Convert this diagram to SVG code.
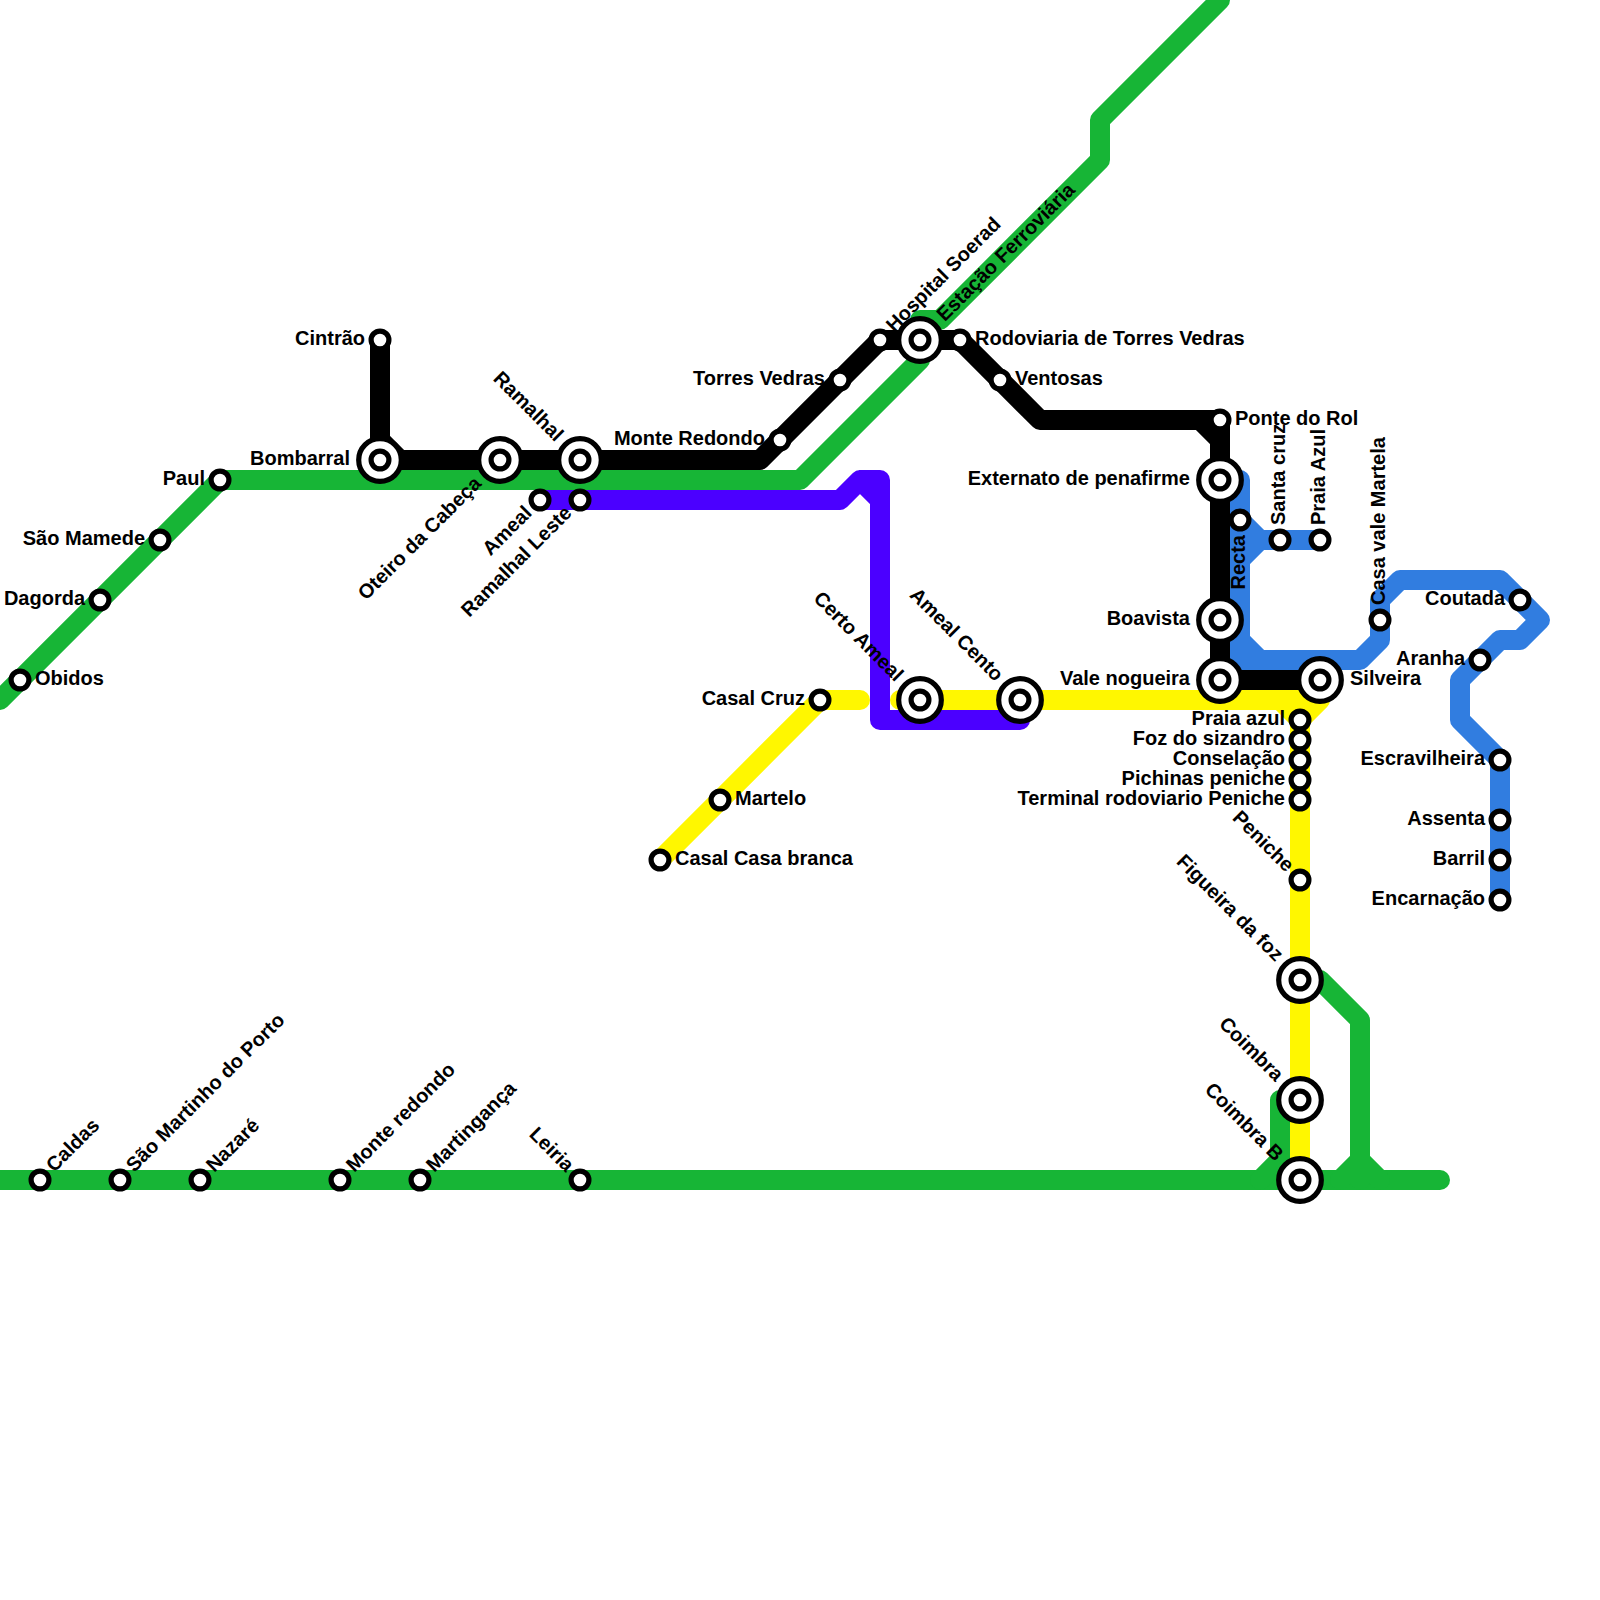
<svg xmlns="http://www.w3.org/2000/svg" width="1600" height="1600" viewBox="0 0 1600 1600">
<style>
.l{fill:none;stroke-width:20;stroke-linecap:round;stroke-linejoin:round}
.g{stroke:#17b536}.k{stroke:#000}.b{stroke:#317de0}.p{stroke:#4b00ff}.y{stroke:#fff700}
.r{fill:#fff;stroke:#000;stroke-width:5.2}
text{font-family:"Liberation Sans",Arial,sans-serif;font-weight:700;font-size:20px;fill:#000}
.e{text-anchor:end}
</style>
<defs>
<g id="s"><circle class="r" r="8.9"/></g>
<g id="i"><circle class="r" r="21.3"/><circle class="r" r="8.9"/></g>
</defs>
<rect width="1600" height="1600" fill="#fff"/>
<g id="connectors">
<path class="l g" d="M0 700L220 480H800L920 360V320H940L1100 160V120L1220 0"/>
<path class="l g" d="M-10 1180H1440"/>
<path class="l g" d="M1300 980H1320L1360 1020V1180M1340 1180L1360 1160L1380 1180"/>
<path class="l g" d="M1300 1100H1280V1160L1260 1180"/>
<path class="l b" d="M1220 480H1240V660H1320M1240 640L1260 660H1360L1380 640V600L1400 580H1500L1540 620L1520 640H1500L1460 680V720L1500 760V900"/>
<path class="l b" d="M1240 520L1260 540H1320M1240 560L1260 540"/>
<path class="l y" d="M660 860L820 700H860M900 700H1280L1300 720V1180M1320 700H1280M1320 700L1300 720"/>
<path class="l p" d="M540 500H840L860 480H880V720H1020V700M860 480L880 500"/>
<path class="l k" d="M380 340V460H760L880 340H960L1040 420H1200L1220 440V680H1320M380 440L400 460M1220 420V440M1200 420H1220"/>
</g>
<g id="n1"><use href="#s" x="20" y="680"/><text x="35" y="685">Obidos</text></g>
<g id="n2"><use href="#s" x="100" y="600"/><text class="e" x="85" y="605">Dagorda</text></g>
<g id="n3"><use href="#s" x="160" y="540"/><text class="e" x="145" y="545">São Mamede</text></g>
<g id="n4"><use href="#s" x="220" y="480"/><text class="e" x="205" y="485">Paul</text></g>
<g id="n5"><use href="#s" x="380" y="340"/><text class="e" x="365" y="345">Cintrão</text></g>
<g id="n6"><use href="#i" x="380" y="460"/><text class="e" x="350" y="465">Bombarral</text></g>
<g id="n7"><use href="#i" x="500" y="460"/><text class="e" transform="translate(500 460) rotate(-45)" x="-30" y="5">Oteiro da Cabeça</text></g>
<g id="n8"><use href="#i" x="580" y="460"/><text class="e" transform="translate(580 460) rotate(45)" x="-30" y="5">Ramalhal</text></g>
<g id="n9"><use href="#s" x="540" y="500"/><text class="e" transform="translate(540 500) rotate(-45)" x="-15" y="5">Ameal</text></g>
<g id="n10"><use href="#s" x="580" y="500"/><text class="e" transform="translate(580 500) rotate(-45)" x="-15" y="5">Ramalhal Leste</text></g>
<g id="n11"><use href="#s" x="780" y="440"/><text class="e" x="765" y="445">Monte Redondo</text></g>
<g id="n12"><use href="#s" x="840" y="380"/><text class="e" x="825" y="385">Torres Vedras</text></g>
<g id="n13"><use href="#s" x="880" y="340"/><text transform="translate(880 340) rotate(-45)" x="15" y="5">Hospital Soerad</text></g>
<g id="n14"><use href="#i" x="920" y="340"/><text transform="translate(920 340) rotate(-45)" x="30" y="5">Estação Ferroviária</text></g>
<g id="n15"><use href="#s" x="960" y="340"/><text x="975" y="345">Rodoviaria de Torres Vedras</text></g>
<g id="n16"><use href="#s" x="1000" y="380"/><text x="1015" y="385">Ventosas</text></g>
<g id="n17"><use href="#s" x="1220" y="420"/><text x="1235" y="425">Ponte do Rol</text></g>
<g id="n18"><use href="#i" x="1220" y="480"/><text class="e" x="1190" y="485">Externato de penafirme</text></g>
<g id="n19"><use href="#s" x="1240" y="520"/><text class="e" transform="translate(1240 520) rotate(-90)" x="-15" y="5">Recta</text></g>
<g id="n20"><use href="#s" x="1280" y="540"/><text transform="translate(1280 540) rotate(-90)" x="15" y="5">Santa cruz</text></g>
<g id="n21"><use href="#s" x="1320" y="540"/><text transform="translate(1320 540) rotate(-90)" x="15" y="5">Praia Azul</text></g>
<g id="n22"><use href="#s" x="1380" y="620"/><text transform="translate(1380 620) rotate(-90)" x="15" y="5">Casa vale Martela</text></g>
<g id="n23"><use href="#s" x="1520" y="600"/><text class="e" x="1505" y="605">Coutada</text></g>
<g id="n24"><use href="#s" x="1480" y="660"/><text class="e" x="1465" y="665">Aranha</text></g>
<g id="n25"><use href="#s" x="1500" y="760"/><text class="e" x="1485" y="765">Escravilheira</text></g>
<g id="n26"><use href="#s" x="1500" y="820"/><text class="e" x="1485" y="825">Assenta</text></g>
<g id="n27"><use href="#s" x="1500" y="860"/><text class="e" x="1485" y="865">Barril</text></g>
<g id="n28"><use href="#s" x="1500" y="900"/><text class="e" x="1485" y="905">Encarnação</text></g>
<g id="n29"><use href="#i" x="1220" y="620"/><text class="e" x="1190" y="625">Boavista</text></g>
<g id="n30"><use href="#i" x="1220" y="680"/><text class="e" x="1190" y="685">Vale nogueira</text></g>
<g id="n31"><use href="#i" x="1320" y="680"/><text x="1350" y="685">Silveira</text></g>
<g id="n32"><use href="#s" x="820" y="700"/><text class="e" x="805" y="705">Casal Cruz</text></g>
<g id="n33"><use href="#s" x="720" y="800"/><text x="735" y="805">Martelo</text></g>
<g id="n34"><use href="#s" x="660" y="860"/><text x="675" y="865">Casal Casa branca</text></g>
<g id="n35"><use href="#i" x="920" y="700"/><text class="e" transform="translate(920 700) rotate(45)" x="-30" y="5">Certo Ameal</text></g>
<g id="n36"><use href="#i" x="1020" y="700"/><text class="e" transform="translate(1020 700) rotate(45)" x="-30" y="5">Ameal Cento</text></g>
<g id="n37"><use href="#s" x="1300" y="720"/><text class="e" x="1285" y="725">Praia azul</text></g>
<g id="n38"><use href="#s" x="1300" y="740"/><text class="e" x="1285" y="745">Foz do sizandro</text></g>
<g id="n39"><use href="#s" x="1300" y="760"/><text class="e" x="1285" y="765">Conselação</text></g>
<g id="n40"><use href="#s" x="1300" y="780"/><text class="e" x="1285" y="785">Pichinas peniche</text></g>
<g id="n41"><use href="#s" x="1300" y="800"/><text class="e" x="1285" y="805">Terminal rodoviario Peniche</text></g>
<g id="n42"><use href="#s" x="1300" y="880"/><text class="e" transform="translate(1300 880) rotate(45)" x="-15" y="5">Peniche</text></g>
<g id="n43"><use href="#i" x="1300" y="980"/><text class="e" transform="translate(1300 980) rotate(45)" x="-30" y="5">Figueira da foz</text></g>
<g id="n44"><use href="#i" x="1300" y="1100"/><text class="e" transform="translate(1300 1100) rotate(45)" x="-30" y="5">Coimbra</text></g>
<g id="n45"><use href="#i" x="1300" y="1180"/><text class="e" transform="translate(1300 1180) rotate(45)" x="-30" y="5">Coimbra B</text></g>
<g id="n46"><use href="#s" x="40" y="1180"/><text transform="translate(40 1180) rotate(-45)" x="15" y="5">Caldas</text></g>
<g id="n47"><use href="#s" x="120" y="1180"/><text transform="translate(120 1180) rotate(-45)" x="15" y="5">São Martinho do Porto</text></g>
<g id="n48"><use href="#s" x="200" y="1180"/><text transform="translate(200 1180) rotate(-45)" x="15" y="5">Nazaré</text></g>
<g id="n49"><use href="#s" x="340" y="1180"/><text transform="translate(340 1180) rotate(-45)" x="15" y="5">Monte redondo</text></g>
<g id="n50"><use href="#s" x="420" y="1180"/><text transform="translate(420 1180) rotate(-45)" x="15" y="5">Martingança</text></g>
<g id="n51"><use href="#s" x="580" y="1180"/><text class="e" transform="translate(580 1180) rotate(45)" x="-15" y="5">Leiria</text></g>
</svg>
